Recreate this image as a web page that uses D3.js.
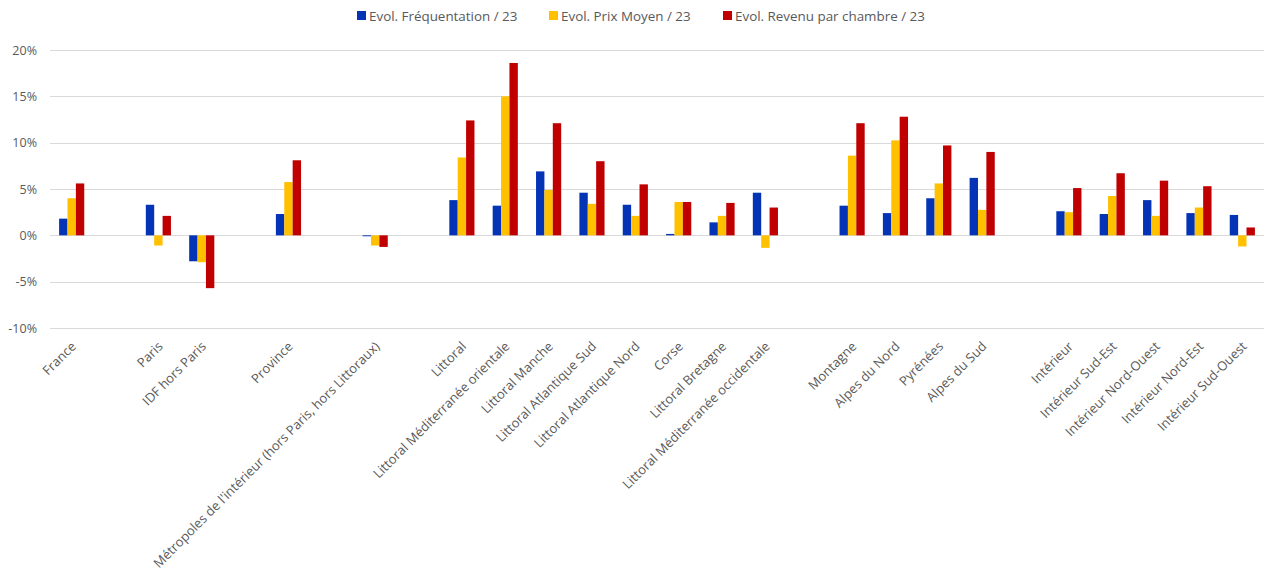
<!DOCTYPE html>
<html>
<head>
  <title>Evolution par destination</title>
  <script src="https://d3js.org/d3.v7.min.js"></script>
  <style>
    body { margin: 0; background: #fff; font-family: "Open Sans", sans-serif; }
    .grid line { stroke: #d9d9d9; stroke-width: 1; }
  </style>
</head>
<body>
<div id="chart"></div>
<script>
  // "" = empty slot (gap between groups)
  const categories = ["France", "", "Paris", "IDF hors Paris", "", "Province", "",
    "Métropoles de l'intérieur (hors Paris, hors Littoraux)", "",
    "Littoral", "Littoral Méditerranée orientale", "Littoral Manche", "Littoral Atlantique Sud",
    "Littoral Atlantique Nord", "Corse", "Littoral Bretagne", "Littoral Méditerranée occidentale", "",
    "Montagne", "Alpes du Nord", "Pyrénées", "Alpes du Sud", "",
    "Intérieur", "Intérieur Sud-Est", "Intérieur Nord-Ouest", "Intérieur Nord-Est", "Intérieur Sud-Ouest"];

  const seriesNames = ["Evol. Fréquentation / 23", "Evol. Prix Moyen / 23", "Evol. Revenu par chambre / 23"];
  const seriesColors = ["#0433b5", "#ffc000", "#c00000"];

  const frequentation = [1.8, null, 3.3, -2.8, null, 2.3, null, -0.1, null,
    3.8, 3.2, 6.9, 4.6, 3.3, 0.15, 1.4, 4.6, null,
    3.2, 2.4, 4.0, 6.2, null, 2.6, 2.3, 3.8, 2.4, 2.2];
  const prixMoyen = [4.0, null, -1.1, -2.9, null, 5.75, null, -1.1, null,
    8.4, 15.0, 4.9, 3.4, 2.1, 3.6, 2.1, -1.35, null,
    8.6, 10.25, 5.6, 2.75, null, 2.5, 4.25, 2.1, 3.0, -1.2];
  const revenuChambre = [5.6, null, 2.1, -5.7, null, 8.1, null, -1.25, null,
    12.4, 18.6, 12.1, 8.0, 5.5, 3.6, 3.5, 3.0, null,
    12.1, 12.8, 9.7, 9.0, null, 5.1, 6.7, 5.9, 5.3, 0.85];

  const yTicks = [-10, -5, 0, 5, 10, 15, 20];

  const series = [frequentation, prixMoyen, revenuChambre];

  const width = 1264, height = 575;
  const margin = { top: 50, right: 0, bottom: 246, left: 50 };

  const svg = d3.select("#chart").append("svg")
    .attr("width", width).attr("height", height);

  const x = d3.scaleBand()
    .domain(d3.range(categories.length))
    .range([margin.left, width - margin.right])
    .paddingInner(0.42).paddingOuter(0.21);

  const xs = d3.scaleBand()
    .domain(d3.range(series.length))
    .range([0, x.bandwidth()]);

  const y = d3.scaleLinear()
    .domain([-10, 20])
    .range([height - margin.bottom - 1, margin.top]);

  // gridlines
  svg.append("g").attr("class", "grid")
    .selectAll("line").data(yTicks).join("line")
    .attr("x1", margin.left).attr("x2", width - margin.right)
    .attr("y1", d => Math.round(y(d)) + 0.5).attr("y2", d => Math.round(y(d)) + 0.5);

  // y axis labels
  const yAxis = d3.axisLeft(y).tickValues(yTicks).tickSize(0).tickPadding(13)
    .tickFormat(d => d + "%");
  svg.append("g")
    .attr("transform", `translate(${margin.left},0)`)
    .call(yAxis)
    .call(g => g.select(".domain").remove())
    .selectAll("text")
    .attr("fill", "#595959")
    .style("font-family", "'Open Sans', sans-serif")
    .style("font-size", "12.5px");

  // bars
  const rows = categories.map((c, i) => ({ i, vals: series.map(s => s[i]) }));
  svg.append("g").selectAll("g").data(rows).join("g")
    .attr("transform", d => `translate(${x(d.i)},0)`)
    .selectAll("rect")
    .data(d => d.vals.map((v, k) => ({ v, k })).filter(e => e.v !== null))
    .join("rect")
    .attr("x", e => xs(e.k))
    .attr("width", xs.bandwidth())
    .attr("y", e => y(Math.max(0, e.v)))
    .attr("height", e => Math.abs(y(e.v) - y(0)))
    .attr("fill", e => seriesColors[e.k]);

  // x labels (rotated)
  svg.append("g").selectAll("text")
    .data(categories.map((c, i) => ({ c, i })).filter(d => d.c !== ""))
    .join("text")
    .attr("transform", d => `translate(${x(d.i) + x.bandwidth() / 2 + 2},${height - margin.bottom + 15}) rotate(-45)`)
    .attr("text-anchor", "end")
    .attr("dy", "0.35em")
    .attr("fill", "#595959")
    .style("font-size", "13px")
    .text(d => d.c);

  // legend
  const legend = svg.append("g").attr("transform", "translate(0,16)");
  const legendX = [357, 549, 723];
  seriesNames.forEach((name, k) => {
    const g = legend.append("g").attr("transform", `translate(${legendX[k]},0)`);
    g.append("rect").attr("x", 0).attr("y", -5).attr("width", 9).attr("height", 9)
      .attr("fill", seriesColors[k]);
    g.append("text").attr("x", 12).attr("y", 0).attr("dy", "0.35em")
      .attr("fill", "#595959")
      .style("font-size", "13.4px")
      .text(name);
  });
</script>
</body>
</html>
